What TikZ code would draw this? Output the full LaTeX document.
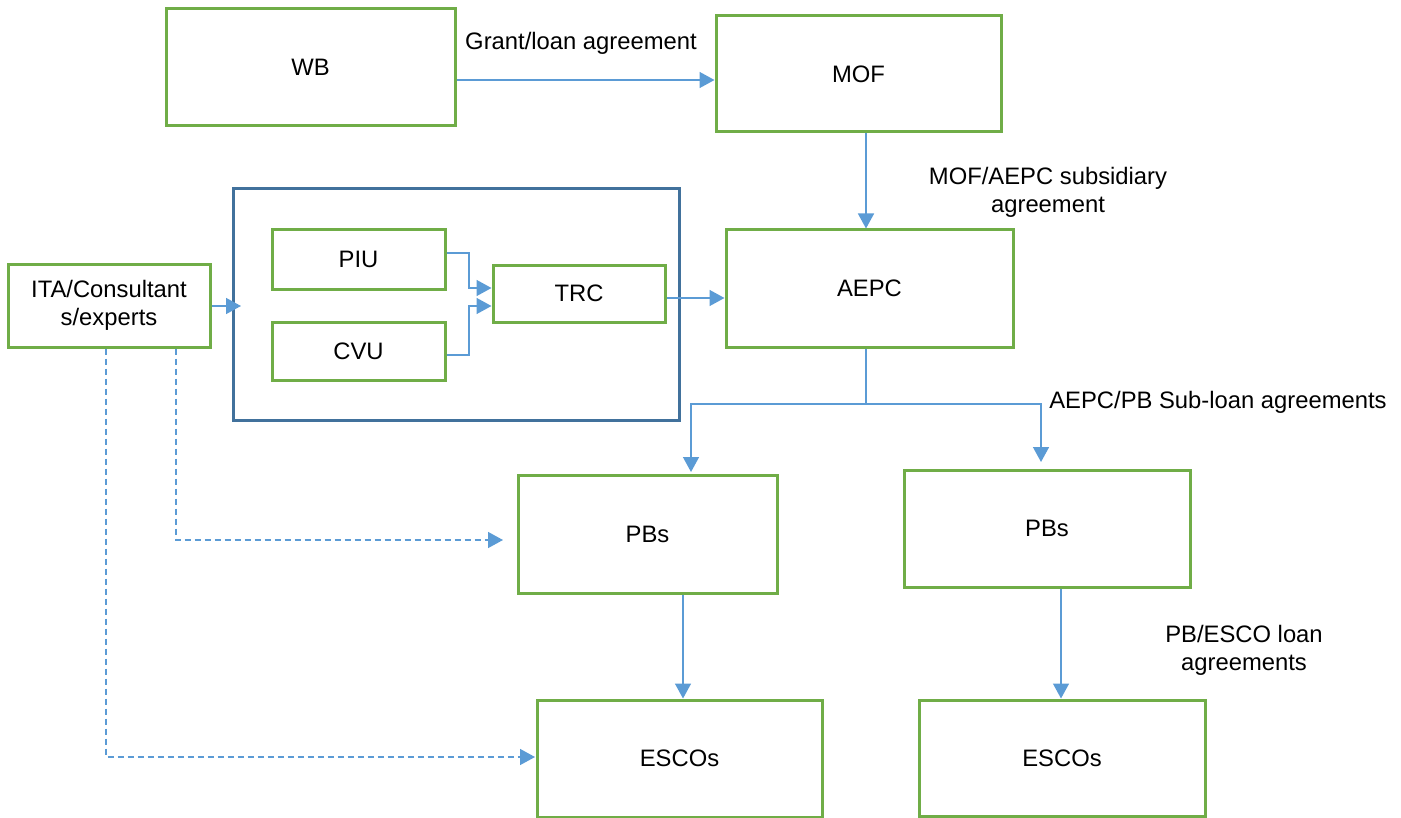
\documentclass[tikz,border=0pt]{standalone}
\usepackage{fontspec}
\setmainfont{Liberation Sans}
\usetikzlibrary{arrows.meta,calc}
\definecolor{boxgreen}{HTML}{70AD47}
\definecolor{connblue}{HTML}{5B9BD5}
\definecolor{contblue}{HTML}{41719C}
\begin{document}
\begin{tikzpicture}[x=0.5pt,y=-0.5pt,
  every node/.style={font=\fontsize{11.9}{13.9}\selectfont, text=black},
  gbox/.style={draw=boxgreen, line width=1.5pt, rectangle, inner sep=0pt, align=center},
  cont/.style={draw=contblue, line width=1.5pt, rectangle, inner sep=0pt},
  conn/.style={draw=connblue, line width=0.75pt, -{Triangle[length=7.5pt,width=8pt]}},
  dconn/.style={conn, dash pattern=on 3pt off 2pt},
  lbl/.style={align=center, inner sep=0pt}]
\useasboundingbox (0,0) rectangle (1401,818);
% boxes
\node[gbox, minimum width=144.5pt, minimum height=58.5pt] (WB) at (310.5,67.5) {WB};
\node[gbox, minimum width=142.5pt, minimum height=58pt] (MOF) at (858.5,74) {MOF};
\node[gbox, minimum width=143.5pt, minimum height=58.5pt] (AEPC) at (869.5,288.5) {AEPC};
\node[cont, minimum width=223pt, minimum height=115.5pt] (CONT) at (456,304.5) {};
\node[gbox, minimum width=86.5pt, minimum height=29.5pt] (PIU) at (358.5,259.5) {PIU};
\node[gbox, minimum width=86.5pt, minimum height=29pt] (CVU) at (358.5,351) {CVU};
\node[gbox, minimum width=86pt, minimum height=28.5pt] (TRC) at (579,293.5) {TRC};
\node[gbox, minimum width=101pt, minimum height=41.5pt] (ITA) at (109,305.5) {ITA/Consultant\\s/experts};
\node[gbox, minimum width=129.5pt, minimum height=59pt] (PB1) at (647.5,534) {PBs};
\node[gbox, minimum width=143pt, minimum height=58.5pt] (PB2) at (1047,528.5) {PBs};
\node[gbox, minimum width=142.5pt, minimum height=58.5pt] (ES1) at (679.5,758.5) {ESCOs};
\node[gbox, minimum width=143pt, minimum height=58pt] (ES2) at (1062,758) {ESCOs};
% labels
\node[lbl] (L1) at (581,43) {Grant/loan agreement};
\node[lbl] (L2) at (1048,192) {MOF/AEPC subsidiary\\agreement};
\node[lbl] (L3) at (1218,402) {AEPC/PB Sub-loan agreements};
\node[lbl] (L4) at (1244,650) {PB/ESCO loan\\agreements};
% helper coordinates
\coordinate (y80) at (0,80);
\coordinate (x866) at (866,0);
\coordinate (piuj) at (469,253);
\coordinate (trcA) at (469,288);
\coordinate (cvuj) at (469,355);
\coordinate (trcB) at (469,306);
\coordinate (y298) at (0,298);
\coordinate (itaend) at (241,306);
\coordinate (d1) at (176,540);
\coordinate (d1e) at (503,540);
\coordinate (d2) at (106,757);
\coordinate (d2e) at (535,757);
\coordinate (split) at (866,404);
\coordinate (b1) at (691,472);
\coordinate (b2) at (1041,462);
\coordinate (x683) at (683,0);
\coordinate (x1061) at (1061,0);
% connectors
\draw[conn] (WB.east |- y80) -- (MOF.west |- y80);
\draw[conn] (MOF.south -| x866) -- (AEPC.north -| x866);
\draw[conn] (PIU.east |- piuj) -- (piuj) -- (trcA) -- (TRC.west |- trcA);
\draw[conn] (CVU.east |- cvuj) -- (cvuj) -- (trcB) -- (TRC.west |- trcB);
\draw[conn] (TRC.east |- y298) -- (AEPC.west |- y298);
\draw[conn] (ITA.east |- itaend) -- (itaend);
\draw[dconn] (ITA.south -| d1) -- (d1) -- (d1e);
\draw[dconn] (ITA.south -| d2) -- (d2) -- (d2e);
\draw[connblue, line width=0.75pt] (AEPC.south -| split) -- (split);
\draw[conn] (split) -| (b1);
\draw[conn] (split) -| (b2);
\draw[conn] (PB1.south -| x683) -- (ES1.north -| x683);
\draw[conn] (PB2.south -| x1061) -- (ES2.north -| x1061);
\end{tikzpicture}
\end{document}
